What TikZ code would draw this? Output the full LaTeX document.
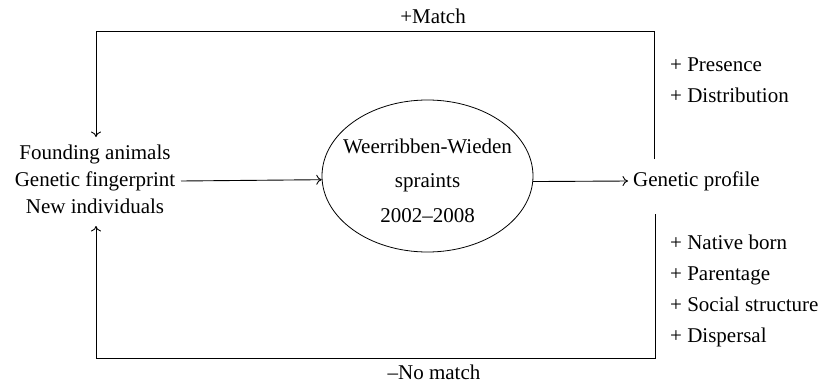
\documentclass[tikz,border=0pt]{standalone}
\usepackage{fontspec}
\setmainfont{Liberation Serif}
\usetikzlibrary{arrows.meta,shapes.geometric}
\begin{document}
\begin{tikzpicture}[x=1pt,y=-1pt,
  lbl/.style={inner sep=0pt,anchor=base,font=\fontsize{21}{24}\selectfont},
  lft/.style={lbl,anchor=base west},
  conn/.style={line width=0.9pt},
  arr/.style={conn,-{To[length=5.5pt,width=10pt]}}]
\useasboundingbox (0,0) rectangle (823,383);
\node[draw,ellipse,line width=0.8pt,minimum width=211pt,minimum height=152pt,inner sep=0pt] (ell) at (427.5,176) {};
\node[lbl] (w1) at (427.5,153) {Weerribben-Wieden};
\node[lbl] (w2) at (427.5,187) {spraints};
\node[lbl] (w3) at (427.5,222) {2002--2008};
\node[lbl] (f1) at (95,159) {Founding animals};
\node[lbl] (f2) at (95,186) {Genetic fingerprint};
\node[lbl] (f3) at (95,213) {New individuals};
\node[lft] (gp) at (633,186) {Genetic profile};
\node[lbl] (match) at (433,23) {+Match};
\node[lbl] (nomatch) at (434,379) {--No match};
\node[lft] (p1) at (670,71) {+ Presence};
\node[lft] (p2) at (670,102) {+ Distribution};
\node[lft] (n1) at (670,249) {+ Native born};
\node[lft] (n2) at (670,280) {+ Parentage};
\node[lft] (n3) at (670,311) {+ Social structure};
\node[lft] (n4) at (670,342) {+ Dispersal};
\coordinate (tr) at (654,31);
\coordinate (tl) at (96,31);
\coordinate (rt) at (654,159);
\coordinate (rb) at (655,214);
\coordinate (br) at (655,358);
\coordinate (bl) at (96,358);
\coordinate (dn) at (96,137);
\coordinate (up) at (96,226);
\coordinate (fe) at (181,181);
\coordinate (ge) at (628,181);
\draw[arr] (rt) -- (tr) -- (tl) -- (dn);
\draw[arr] (rb) -- (br) -- (bl) -- (up);
\draw[arr] (fe) -- (ell.182.7);
\draw[arr] (ell.357.3) -- (ge);
\end{tikzpicture}
\end{document}
